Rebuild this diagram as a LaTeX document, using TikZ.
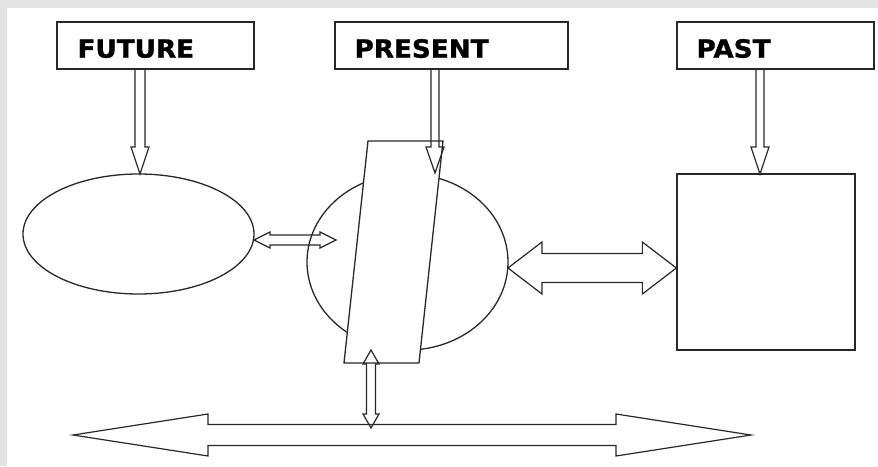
\documentclass[tikz,border=0pt]{standalone}
\usepackage{fontspec}
\usetikzlibrary{shapes.geometric,calc}
\newfontfamily\labelfont{DejaVu Sans}[BoldFeatures={FakeBold=1.2,FakeStretch=1.05}]
\definecolor{framegray}{RGB}{227,227,227}
\definecolor{ink}{RGB}{40,40,40}

% outlined double arrow between two points on a horizontal line
% #1 left tip, #2 right tip, #3 head length, #4 head half width, #5 shaft half width
\newcommand\dblharrow[5]{%
  \draw[arrowline] (#1) -- ($(#1)+(#3,-#4)$) -- ($(#1)+(#3,-#5)$) -- ($(#2)+(-#3,-#5)$)
    -- ($(#2)+(-#3,-#4)$) -- (#2) -- ($(#2)+(-#3,#4)$) -- ($(#2)+(-#3,#5)$)
    -- ($(#1)+(#3,#5)$) -- ($(#1)+(#3,#4)$) -- cycle;}
% outlined double arrow between two points on a vertical line (#1 top, #2 bottom)
\newcommand\dblvarrow[5]{%
  \draw[arrowline] (#1) -- ($(#1)+(#4,#3)$) -- ($(#1)+(#5,#3)$) -- ($(#2)+(#5,-#3)$)
    -- ($(#2)+(#4,-#3)$) -- (#2) -- ($(#2)+(-#4,-#3)$) -- ($(#2)+(-#5,-#3)$)
    -- ($(#1)+(-#5,#3)$) -- ($(#1)+(-#4,#3)$) -- cycle;}
% outlined arrow pointing down from #1 (shaft start) to tip #2
\newcommand\downarr[5]{%
  \draw[arrowline] ($(#1)+(-#5,0)$) -- ($(#2)+(-#5,-#3)$) -- ($(#2)+(-#4,-#3)$) -- (#2)
    -- ($(#2)+(#4,-#3)$) -- ($(#2)+(#5,-#3)$) -- ($(#1)+(#5,0)$);}

\tikzset{
  outline/.style={draw=ink, line width=1.3pt},
  labelbox/.style={outline, rectangle, minimum height=47pt, inner sep=0pt},
  labeltext/.style={anchor=base west, inner sep=0pt,
    font=\labelfont\bfseries\fontsize{25}{30}\selectfont},
  arrowline/.style={draw=ink, line width=1.2pt, line join=miter},
  blob/.style={outline, ellipse, inner sep=0pt},
}

\begin{document}
\begin{tikzpicture}[x=1pt, y=-1pt]
  % frame
  \fill[framegray] (0,0) rectangle (878,466);
  \fill[white] (7,8) rectangle (878,466);
  \useasboundingbox (0,0) rectangle (878,466);

  % heading boxes
  \node[labelbox, minimum width=197pt] (future)  at (155.5,45.5) {};
  \node[labelbox, minimum width=233pt] (present) at (451.5,45.5) {};
  \node[labelbox, minimum width=197pt] (past)    at (775.5,45.5) {};
  \node[labeltext] (futurelbl)  at ([xshift=21pt,yshift=12pt]future.south west)  {FUTURE};
  \node[labeltext] (presentlbl) at ([xshift=20pt,yshift=12pt]present.south west) {PRESENT};
  \node[labeltext] (pastlbl)    at ([xshift=20pt,yshift=12pt]past.south west)    {PAST};

  % main shapes
  \node[blob, minimum width=231pt, minimum height=120pt] (fell) at (138.5,234) {};
  \node[blob, minimum width=201pt, minimum height=176pt] (circ) at (407.5,262) {};
  \node[outline, rectangle, minimum width=178pt, minimum height=176pt, inner sep=0pt]
    (sq) at (766,262) {};
  \draw[outline, fill=white, line join=miter]
    (368,141) coordinate (pgtl) -- (443,141) coordinate (pgtr)
    -- (419,363) coordinate (pgbr) -- (344,363) coordinate (pgbl) -- cycle;

  % arrow end points
  \coordinate (ftip) at (140,174);
  \coordinate (ptip) at (435,173);
  \coordinate (qtip) at (760,174);
  \coordinate (s1) at (254,240);
  \coordinate (s2) at (336,240);
  \coordinate (m1) at (508,268);
  \coordinate (m2) at (m1 -| sq.west);
  \coordinate (v1) at (371,350);
  \coordinate (v2) at (371,428);
  \coordinate (b1) at (73,435);
  \coordinate (b2) at (751,435);

  % arrows from the headings
  \downarr{ftip |- future.south}{ftip}{27}{9}{5}
  \downarr{ptip |- present.south}{ptip}{26}{9}{4}
  \downarr{qtip |- past.south}{qtip}{27}{9}{4}

  % links between the shapes
  \dblharrow{s1}{s2}{16}{8}{5}
  \dblharrow{m1}{m2}{34}{26}{14.5}
  \dblvarrow{v1}{v2}{14}{8}{4.5}
  \dblharrow{b1}{b2}{135}{21}{10.5}
\end{tikzpicture}
\end{document}
